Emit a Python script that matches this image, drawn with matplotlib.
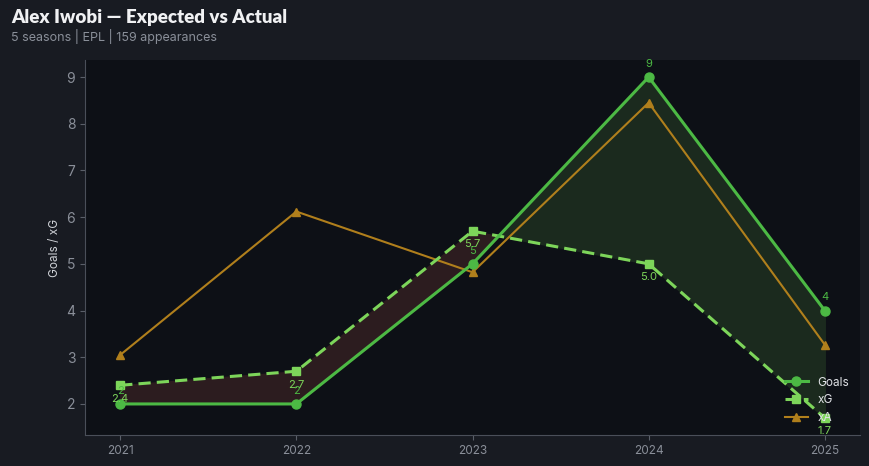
import numpy as np
import matplotlib.pyplot as plt

seasons = [2021, 2022, 2023, 2024, 2025]
goals = [2, 2, 5, 9, 4]
xg = [2.4, 2.7, 5.7, 5.0, 1.7]
xa = [3.05, 6.12, 4.82, 8.45, 3.27]

title = "Alex Iwobi \u2014 Expected vs Actual"
subtitle = "5 seasons | EPL | 159 appearances"

BG = "#181b22"
AX_BG = "#0d1016"
GOALS_C = "#4cb944"
XG_C = "#7dd55a"
XA_C = "#b07f1c"
TXT = "#8a8f99"

plt.rcParams["font.family"] = ["Inter", "DejaVu Sans"]

fig = plt.figure(figsize=(8.69, 4.66), dpi=100, facecolor=BG)
ax = fig.add_axes([85 / 869, 31 / 466, 775 / 869, 375 / 466])
ax.set_facecolor(AX_BG)

x = np.array(seasons)
g = np.array(goals, dtype=float)
e = np.array(xg, dtype=float)

# shaded gap between goals and xG
ax.fill_between(x, g, e, where=g >= e, interpolate=True, color="#1b2a1e", zorder=1)
ax.fill_between(x, g, e, where=g < e, interpolate=True, color="#2c1c1f", zorder=1)

ax.plot(x, xa, color=XA_C, lw=1.5, marker="^", ms=6, label="xA", zorder=2)
ax.plot(x, e, color=XG_C, lw=2.2, ls=(0, (4, 2)), marker="s", ms=6, label="xG", zorder=3)
ax.plot(x, g, color=GOALS_C, lw=2.2, marker="o", ms=6.5, label="Goals", zorder=4)

for xi, v in zip(x, g):
    ax.annotate(f"{v:g}", (xi, v), xytext=(0, 6), textcoords="offset points",
                ha="center", va="bottom", fontsize=8, color=GOALS_C, zorder=5)
for xi, v in zip(x, e):
    ax.annotate(f"{v:.1f}", (xi, v), xytext=(0, -6), textcoords="offset points",
                ha="center", va="top", fontsize=8, color=XG_C, zorder=5)

ax.margins(x=0.05, y=0.05)
ax.set_xticks(seasons)
ax.set_xticklabels([str(s) for s in seasons])
ax.set_yticks(range(2, 10))
ax.tick_params(axis="x", colors="#5a5f69", labelcolor=TXT, labelsize=8.5)
ax.tick_params(axis="y", colors="#5a5f69", labelcolor=TXT, labelsize=10)
ax.set_ylabel("Goals / xG", color="#d0d3d8", fontsize=8.5)
for s in ["top", "right"]:
    ax.spines[s].set_visible(False)
for s in ["left", "bottom"]:
    ax.spines[s].set_color("#4a4f59")

ax.legend(loc="lower right", frameon=False, fontsize=8.5, labelcolor="#e0e2e6",
          handles=[ax.lines[2], ax.lines[1], ax.lines[0]])

fig.text(11 / 869, 1 - 17 / 466, title, fontsize=13.5, fontweight="heavy",
         color="#f0f1f3", va="center", ha="left", family=["Lato", "DejaVu Sans"])
fig.text(11 / 869, 1 - 37 / 466, subtitle, fontsize=9, color=TXT,
         va="center", ha="left")

fig.savefig("out.png", dpi=100, facecolor=BG)
